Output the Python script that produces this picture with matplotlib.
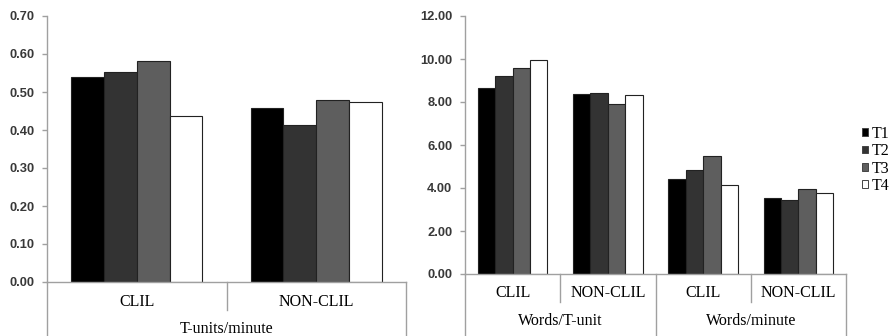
import numpy as np
import matplotlib
matplotlib.use("Agg")
import matplotlib.pyplot as plt
from matplotlib.patches import Patch
from matplotlib.transforms import blended_transform_factory

plt.rcParams['font.family'] = ['Liberation Serif', 'DejaVu Serif']

# data
series = ['T1', 'T2', 'T3', 'T4']
colors = ['#000000', '#333333', '#5e5e5e', '#ffffff']

left_cats = ['CLIL', 'NON-CLIL']
left_group = 'T-units/minute'
left_vals = [
    [0.539, 0.457],   # T1
    [0.553, 0.412],   # T2
    [0.582, 0.479],   # T3
    [0.436, 0.474],   # T4
]

right_cats = ['CLIL', 'NON-CLIL', 'CLIL', 'NON-CLIL']
right_groups = ['Words/T-unit', 'Words/minute']
right_vals = [
    [8.64, 8.36, 4.42, 3.52],   # T1
    [9.21, 8.43, 4.84, 3.44],   # T2
    [9.58, 7.91, 5.50, 3.95],   # T3
    [9.95, 8.34, 4.15, 3.78],   # T4
]

W, H = 894, 336
fig = plt.figure(figsize=(W / 100, H / 100), dpi=100)
axis_gray = '#a0a0a0'


def fy(py):
    return 1 - py / H


def draw_panel(ax, cats, vals, ymax, ystep, zero_py, cat_py, grp_py, groups, group_span):
    n = len(cats)
    x = np.arange(n)
    bw = 0.183
    for i, (s, c) in enumerate(zip(series, colors)):
        ax.bar(x + (i - 1.5) * bw, vals[i], bw, color=c, edgecolor='#222222', linewidth=0.8, label=s)
    ax.set_xlim(-0.5, n - 0.5)
    ax.set_ylim(0, ymax)
    ticks = np.arange(0, ymax + ystep / 2, ystep)
    ax.set_yticks(ticks)
    ax.set_yticklabels([f'{v:.2f}' for v in ticks], fontsize=9.3, fontweight='bold',
                       family=['Liberation Sans', 'DejaVu Sans'])
    ax.set_xticks([])
    for sp in ['top', 'right']:
        ax.spines[sp].set_visible(False)
    for sp in ['left', 'bottom']:
        ax.spines[sp].set_color(axis_gray)
        ax.spines[sp].set_linewidth(1.0)
    ax.tick_params(axis='y', colors=axis_gray, labelcolor='#383838', length=3.6, width=1.0, pad=5.5)

    tr = blended_transform_factory(ax.transData, fig.transFigure)
    # category labels
    for xi, c in zip(x, cats):
        ax.text(xi, fy(cat_py), c, transform=tr, ha='center', va='center', fontsize=11.5)
    # separators
    for b in np.arange(-0.5, n, 1.0):
        if any(abs(b - e) < 1e-6 for e in [-0.5, n - 0.5] + [g[1] for g in group_span]):
            y_end = 0
        else:
            y_end = fy(zero_py + 28)
        ax.plot([b, b], [fy(zero_py), y_end], transform=tr, color=axis_gray, lw=1.0, clip_on=False)
    for g, (a, b) in zip(groups, group_span):
        ax.text((a + b) / 2, fy(grp_py), g, transform=tr, ha='center', va='center', fontsize=11.5)


# left panel
ax1 = fig.add_axes([47 / W, fy(282), 359 / W, 266 / H])
draw_panel(ax1, left_cats, left_vals, 0.70, 0.10, 282, 302, 329, [left_group], [(-0.5, 1.5)])

# right panel
ax2 = fig.add_axes([465 / W, fy(274), 381 / W, 258 / H])
draw_panel(ax2, right_cats, right_vals, 12.0, 2.0, 274, 293, 321, right_groups, [(-0.5, 1.5), (1.5, 3.5)])

handles = [Patch(facecolor=c, edgecolor='#444444', linewidth=0.7, label=s) for s, c in zip(series, colors)]
fig.legend(handles=handles, loc='upper left', bbox_to_anchor=(862 / W, fy(126)), frameon=False,
           fontsize=11.5, handlelength=0.38, handleheight=0.38, handletextpad=0.25, labelspacing=0.08,
           borderaxespad=0, borderpad=0)

fig.savefig('out.png', dpi=100)
